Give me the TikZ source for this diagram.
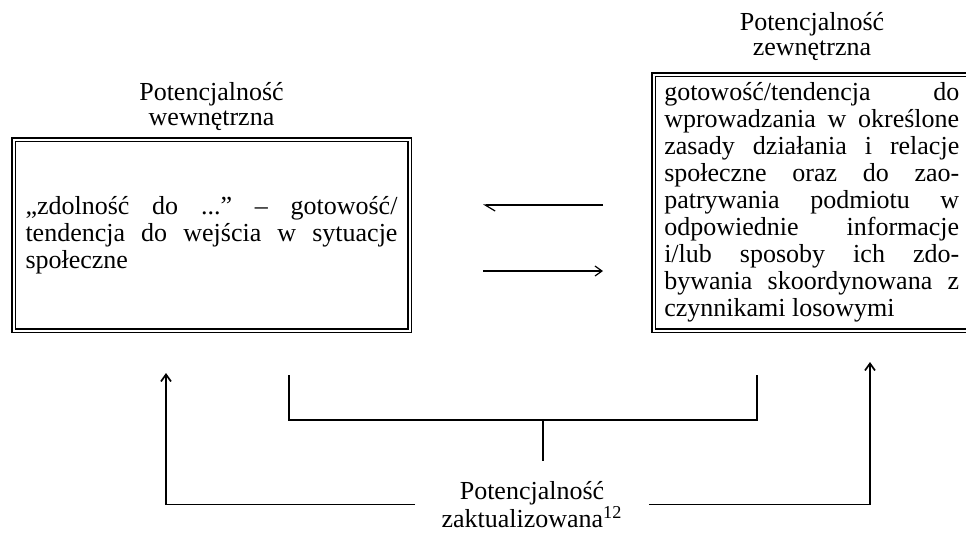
\documentclass[tikz,border=0pt]{standalone}
\usepackage{fontspec}
\setmainfont{Liberation Serif}
\frenchspacing
\usetikzlibrary{arrows.meta}

\tikzset{
  ramka/.style={draw, double, line width=0.75pt, double distance=1pt, inner sep=0pt},
  opis/.style={font=\fontsize{13}{13.5}\selectfont, align=justify},
  etykieta/.style={font=\fontsize{13}{12.5}\selectfont, align=center, inner sep=0pt},
  linia/.style={line width=0.85pt},
  cienka/.style={line width=0.6pt},
  grot/.style={-{Straight Barb[length=3.5pt, width=5pt]}},
  harpun/.style={-{Straight Barb[left, length=5pt, width=6pt]}}
}

\begin{document}
\begin{tikzpicture}[x=0.5pt, y=-0.5pt]
    \useasboundingbox (0,0) rectangle (966,532);

    % Two boxes
    \node[ramka, opis, minimum width=198pt, minimum height=95.5pt, text width=186pt] (wew) at (211.5,235)
        {„zdolność do ...” – gotowość/\linebreak tendencja do wejścia w sytuacje\linebreak społeczne};
    \node[etykieta, anchor=south] (wewlab) at (211.5,131) {Potencjalność\\wewnętrzna};

    \node[ramka, opis, minimum width=158.25pt, minimum height=128pt, text width=147.5pt] (zew) at (811.75,202.5)
        {gotowość/tendencja do\linebreak wprowadzania w określone\linebreak zasady działania i relacje\linebreak
         społeczne oraz do zao-\linebreak patrywania podmiotu w\linebreak odpowiednie informacje\linebreak
         i/lub sposoby ich zdo-\linebreak bywania skoordynowana z\linebreak czynnikami losowymi};
    \node[etykieta, anchor=south] (zewlab) at (812,61) {Potencjalność\\zewnętrzna};

    % Arrows between the boxes
    \coordinate (g1) at (603,205);
    \coordinate (g2) at (483,205);
    \draw[cienka, harpun] (g1) -- (g2);
    \coordinate (d1) at (483,271);
    \coordinate (d2) at (603,271);
    \draw[cienka, grot] (d1) -- (d2);

    % Bottom label
    \node[etykieta, inner xsep=13pt, inner ysep=10pt] (akt) at (532,504.5)
        {Potencjalność\\zaktualizowana\textsuperscript{12}};

    % Bracket
    \coordinate (lewy) at (289,375);
    \coordinate (prawy) at (757,375);
    \coordinate (laczenie) at (543,420);
    \draw[linia] (lewy) |- (laczenie) -| (prawy);
    \draw[linia] (laczenie) -- (laczenie |- akt.north);

    % Outer arrows
    \coordinate (wewdol) at (166,373);
    \coordinate (zewdol) at (870,362);
    \draw[linia, grot] (akt.west) -| (wewdol);
    \draw[linia, grot] (akt.east) -| (zewdol);
\end{tikzpicture}
\end{document}
